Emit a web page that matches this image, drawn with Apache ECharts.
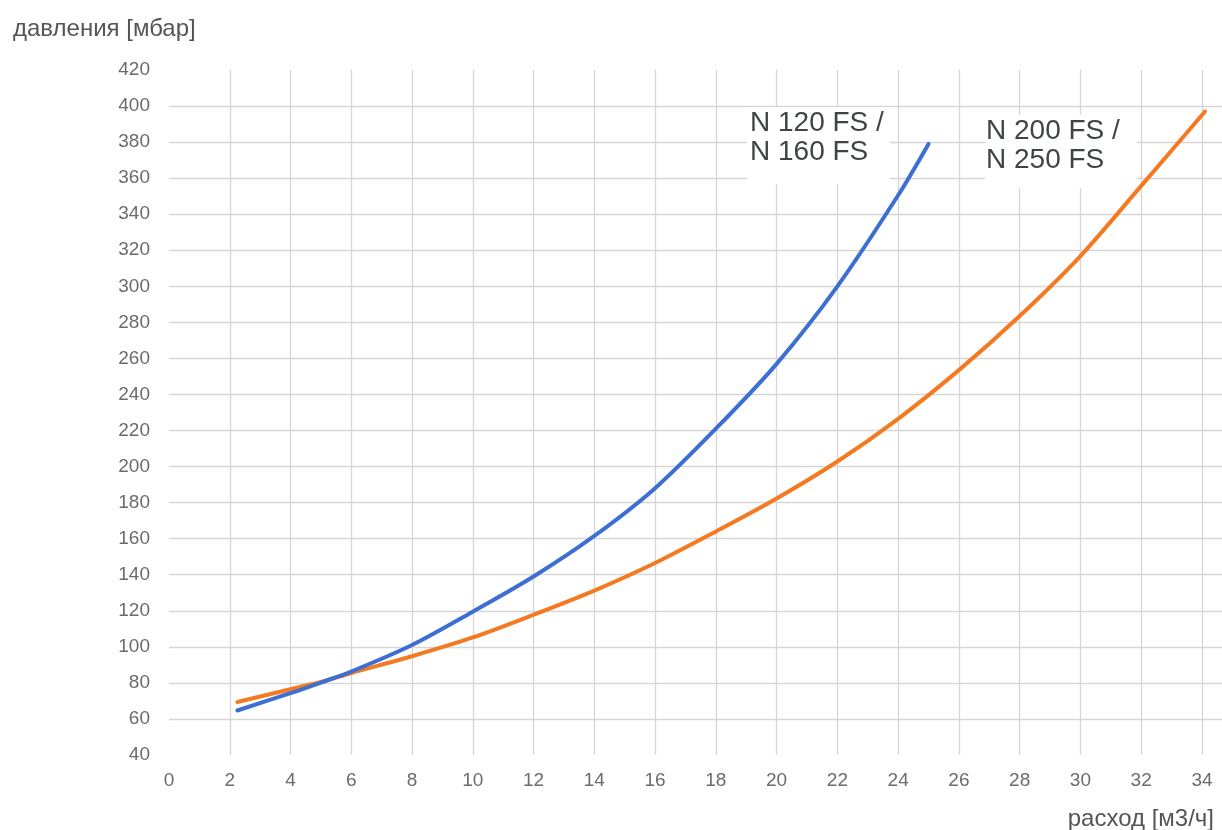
<!DOCTYPE html>
<html>
<head>
<meta charset="utf-8">
<script src="https://cdn.jsdelivr.net/npm/echarts@6/dist/echarts.min.js"></script>
<style>
html,body{margin:0;padding:0;background:#fff;}
#chart{width:1222px;height:830px;}
</style>
</head>
<body>
<div id="chart"></div>
<script>
// Data
const blueName = 'N 120 FS / N 160 FS';
const blueX = [2.25, 4, 5, 6, 8, 10, 12, 14, 16, 18, 20, 22, 24, 25];
const blueY = [64.7, 74.3, 80.2, 86.3, 101, 119.5, 139, 161.5, 188, 221, 257, 300, 350.5, 379];
const orangeName = 'N 200 FS / N 250 FS';
const orangeX = [2.25, 4, 5, 6, 8, 10, 12, 14, 16, 18, 20, 22, 24, 26, 28, 30, 32, 34.1];
const orangeY = [69.4, 76.5, 80.5, 85.5, 94.8, 105.2, 117.8, 131.2, 146.5, 164, 182.3, 202.8, 226.5, 253.5, 283.5, 316.8, 355.7, 397];
const yAxisTitle = 'давления [мбар]';
const xAxisTitle = 'расход [м3/ч]';
const blueLabel = 'N 120 FS /\nN 160 FS';
const orangeLabel = 'N 200 FS /\nN 250 FS';

const zip = (xs, ys) => xs.map((x, i) => [x, ys[i]]);
const FONT = '"Liberation Sans", Arial, sans-serif';

const chart = echarts.init(document.getElementById('chart'), null, {renderer: 'canvas'});
chart.setOption({
  animation: false,
  backgroundColor: '#ffffff',
  title: [
    {text: yAxisTitle, left: 8, top: 12, textStyle: {fontFamily: FONT, fontSize: 24, fontWeight: 'normal', color: '#555555'}},
    {text: xAxisTitle, right: 3, top: 802, textStyle: {fontFamily: FONT, fontSize: 24, fontWeight: 'normal', color: '#555555'}}
  ],
  grid: {left: 169, right: 0, top: 70, bottom: 75, containLabel: false},
  xAxis: {
    type: 'value', min: 0, max: 34.66, interval: 2,
    axisLine: {show: false}, axisTick: {show: false},
    axisLabel: {showMaxLabel: false, margin: 16, color: '#6b6b6b', fontSize: 19, fontFamily: FONT},
    splitLine: {show: true, showMinLine: false, showMaxLine: false, lineStyle: {color: '#d6d6d6', width: 1.3}}
  },
  yAxis: {
    type: 'value', min: 40, max: 420, interval: 20,
    axisLine: {show: false}, axisTick: {show: false},
    axisLabel: {margin: 19, color: '#6b6b6b', fontSize: 19, fontFamily: FONT},
    splitLine: {show: true, showMinLine: false, showMaxLine: false, lineStyle: {color: '#d6d6d6', width: 1.3}}
  },
  series: [
    {name: blueName, type: 'line', data: zip(blueX, blueY), smooth: 0.3, showSymbol: false,
     lineStyle: {color: '#3d6fd3', width: 4, cap: 'round'}, itemStyle: {color: '#3d6fd3'}, z: 3},
    {name: orangeName, type: 'line', data: zip(orangeX, orangeY), smooth: 0.3, showSymbol: false,
     lineStyle: {color: '#f47a22', width: 4, cap: 'round'}, itemStyle: {color: '#f47a22'}, z: 2}
  ],
  graphic: [
    {type: 'rect', left: 747, top: 107, shape: {width: 143, height: 77}, style: {fill: '#ffffff'}, z: 100},
    {type: 'text', left: 750, top: 109, z: 101,
     style: {text: blueLabel, font: '28px ' + FONT, lineHeight: 29, fill: '#404447'}},
    {type: 'rect', left: 985, top: 115, shape: {width: 152, height: 73}, style: {fill: '#ffffff'}, z: 100},
    {type: 'text', left: 986, top: 117, z: 101,
     style: {text: orangeLabel, font: '28px ' + FONT, lineHeight: 29, fill: '#404447'}}
  ]
});
</script>
</body>
</html>
